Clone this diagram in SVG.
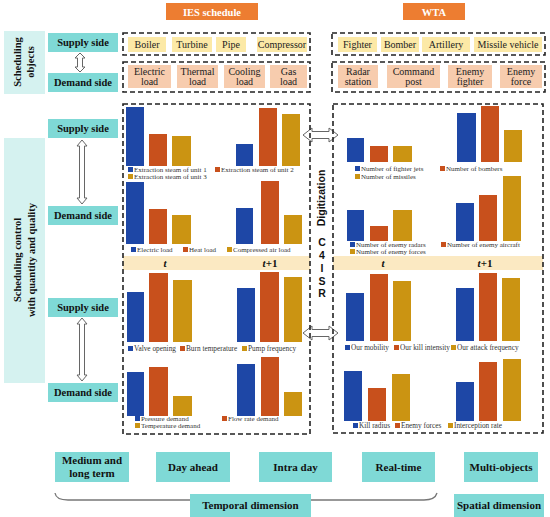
<svg xmlns="http://www.w3.org/2000/svg" width="550" height="517" viewBox="0 0 550 517">
<style>
.bg{fill:#ffffff}
.hdr{fill:#ED7D31}
.hdrt{font-family:"Liberation Serif",serif;font-weight:bold;font-size:10.5px;fill:#fff;text-anchor:middle}
.teal{fill:#7FD9D6}
.lcyan{fill:#D5F2F0}
.lbl{font-family:"Liberation Serif",serif;font-weight:bold;font-size:10.5px;fill:#111;text-anchor:middle}
.sup{fill:#FCE9A6}
.dem{fill:#F7CCAE}
.it{font-family:"Liberation Serif",serif;font-size:10px;fill:#222;text-anchor:middle}
.dash{fill:none;stroke:#222;stroke-width:1.6;stroke-dasharray:5,3}
.band{fill:#FBE9C2}
.bb{fill:#1E47A6}
.bo{fill:#C8501C}
.bg2{fill:#CB9412}
.lg{font-family:"Liberation Serif",serif;font-size:7px;fill:#333}
.lg2{font-family:"Liberation Serif",serif;font-size:7.3px;fill:#333}
.tt{font-family:"Liberation Serif",serif;font-weight:bold;font-size:11px;fill:#111;text-anchor:middle}
.sans{font-family:"Liberation Sans",sans-serif;font-weight:bold;font-size:10.5px;fill:#111;text-anchor:middle}
.arr{fill:#fff;stroke:#666;stroke-width:1}
.brk{fill:none;stroke:#777;stroke-width:1.3}
</style>
<rect class="bg" x="0" y="0" width="550" height="517"/>

<!-- headers -->
<g id="hdr-ies"><rect class="hdr" x="166" y="3" width="92" height="17"/><text class="hdrt" x="212" y="15.5">IES schedule</text></g>
<g id="hdr-wta"><rect class="hdr" x="403" y="3" width="62" height="17"/><text class="hdrt" x="434" y="15.5">WTA</text></g>

<!-- left labels -->
<g id="sched-objects"><rect class="lcyan" x="4" y="31" width="41" height="63"/>
<text class="lbl" transform="translate(21,62) rotate(-90)">Scheduling</text>
<text class="lbl" transform="translate(34,62) rotate(-90)">objects</text></g>
<g id="sched-control"><rect class="lcyan" x="4" y="138" width="41" height="245"/>
<text class="lbl" transform="translate(21,260) rotate(-90)">Scheduling control</text>
<text class="lbl" transform="translate(35,260) rotate(-90)">with quantity and quality</text></g>

<g id="obj-supply"><rect class="teal" x="48" y="33" width="70" height="19"/><text class="lbl" x="83" y="46">Supply side</text></g>
<g id="obj-demand"><rect class="teal" x="48" y="73" width="70" height="19"/><text class="lbl" x="83" y="86">Demand side</text></g>
<g id="ctl-supply1"><rect class="teal" x="48" y="119" width="70" height="19"/><text class="lbl" x="83" y="132">Supply side</text></g>
<g id="ctl-demand1"><rect class="teal" x="48" y="206" width="70" height="19"/><text class="lbl" x="83" y="219">Demand side</text></g>
<g id="ctl-supply2"><rect class="teal" x="48" y="298" width="70" height="19"/><text class="lbl" x="83" y="311">Supply side</text></g>
<g id="ctl-demand2"><rect class="teal" x="48" y="383" width="70" height="19"/><text class="lbl" x="83" y="396">Demand side</text></g>

<!-- connectors -->
<g id="connectors">
<polygon class="arr" points="80,53 85,58 82.5,58 82.5,67 85,67 80,72 75,67 77.5,67 77.5,58 75,58"/>
<polygon class="arr" points="82,140 87,146 84.5,146 84.5,198 87,198 82,204 77,198 79.5,198 79.5,146 77,146"/>
<polygon class="arr" points="82,318 87,324 84.5,324 84.5,375 87,375 82,381 77,375 79.5,375 79.5,324 77,324"/>
<polygon class="arr" points="303,135 312,128 312,131.5 329,131.5 329,128 338,135 329,142 329,138.5 312,138.5 312,142"/>
<polygon class="arr" points="303,333 312,326 312,329.5 329,329.5 329,326 338,333 329,340 329,336.5 312,336.5 312,340"/>
<path class="brk" d="M55,493 Q56,500 68,500 L190,500"/>
<path class="brk" d="M311,500 L424,500 Q435,500 437,493"/>
</g>

<!-- top objects IES -->
<g id="ies-supply-objs">
<rect class="dash" x="123" y="33" width="187" height="22"/>
<rect class="sup" x="128" y="37" width="38" height="15"/><text class="it" x="147" y="48">Boiler</text>
<rect class="sup" x="172" y="37" width="40" height="15"/><text class="it" x="192" y="48">Turbine</text>
<rect class="sup" x="216" y="37" width="30" height="15"/><text class="it" x="231" y="48">Pipe</text>
<rect class="sup" x="257" y="37" width="50" height="15"/><text class="it" x="282" y="48">Compressor</text>
</g>
<g id="ies-demand-objs">
<rect class="dash" x="123" y="62" width="187" height="30"/>
<rect class="dem" x="128" y="65" width="43" height="23"/><text class="it" x="149.5" y="75">Electric</text><text class="it" x="149.5" y="85">load</text>
<rect class="dem" x="177" y="65" width="41" height="23"/><text class="it" x="197.5" y="75">Thermal</text><text class="it" x="197.5" y="85">load</text>
<rect class="dem" x="224" y="65" width="41" height="23"/><text class="it" x="244.5" y="75">Cooling</text><text class="it" x="244.5" y="85">load</text>
<rect class="dem" x="270" y="65" width="37" height="23"/><text class="it" x="288.5" y="75">Gas</text><text class="it" x="288.5" y="85">load</text>
</g>
<!-- top objects WTA -->
<g id="wta-supply-objs">
<rect class="dash" x="332" y="33" width="213" height="22"/>
<rect class="sup" x="338" y="37" width="39" height="15"/><text class="it" x="357.5" y="48">Fighter</text>
<rect class="sup" x="381" y="37" width="38" height="15"/><text class="it" x="400" y="48">Bomber</text>
<rect class="sup" x="422" y="37" width="48" height="15"/><text class="it" x="446" y="48">Artillery</text>
<rect class="sup" x="474" y="37" width="68" height="15"/><text class="it" x="508" y="48">Missile vehicle</text>
</g>
<g id="wta-demand-objs">
<rect class="dash" x="332" y="62" width="213" height="30"/>
<rect class="dem" x="338" y="65" width="40" height="23"/><text class="it" x="358" y="75">Radar</text><text class="it" x="358" y="85">station</text>
<rect class="dem" x="387" y="65" width="53" height="23"/><text class="it" x="413.5" y="75">Command</text><text class="it" x="413.5" y="85">post</text>
<rect class="dem" x="448" y="65" width="44" height="23"/><text class="it" x="470" y="75">Enemy</text><text class="it" x="470" y="85">fighter</text>
<rect class="dem" x="500" y="65" width="42" height="23"/><text class="it" x="521" y="75">Enemy</text><text class="it" x="521" y="85">force</text>
</g>

<!-- big boxes -->
<g id="ies-box">
<rect class="band" x="123" y="256" width="187" height="14"/>
<rect class="dash" x="123" y="104" width="187" height="330"/>
<text class="tt" x="165" y="267"><tspan font-style="italic">t</tspan></text>
<text class="tt" x="270" y="267"><tspan font-style="italic">t</tspan>+1</text>
</g>
<g id="wta-box">
<rect class="band" x="333" y="256" width="210" height="14"/>
<rect class="dash" x="333" y="104" width="210" height="329"/>
<text class="tt" x="383" y="267"><tspan font-style="italic">t</tspan></text>
<text class="tt" x="485" y="267"><tspan font-style="italic">t</tspan>+1</text>
</g>

<g id="digitization">
<text class="sans" transform="translate(325,198) rotate(-90)">Digitization</text>
<text class="sans" x="322" y="246">C</text>
<text class="sans" x="322" y="259">4</text>
<text class="sans" x="322" y="272">I</text>
<text class="sans" x="322" y="285">S</text>
<text class="sans" x="322" y="297">R</text>
</g>

<!-- IES charts -->
<g id="ies-chart-supply-1">
<rect class="bb" x="126" y="107" width="18" height="59"/><rect class="bo" x="149" y="134" width="18" height="32"/><rect class="bg2" x="172" y="136" width="19" height="30"/>
<rect class="bb" x="236" y="144" width="17" height="22"/><rect class="bo" x="259" y="108" width="18" height="58"/><rect class="bg2" x="282" y="114" width="18" height="52"/>
<rect class="bb" x="128" y="167" width="5" height="5"/><text class="lg" x="134" y="172">Extraction steam of unit  1</text>
<rect class="bo" x="215" y="167" width="5" height="5"/><text class="lg" x="221" y="172">Extraction steam of unit  2</text>
<rect class="bg2" x="128" y="174" width="5" height="5"/><text class="lg" x="134" y="179">Extraction steam of unit  3</text>
</g>
<g id="ies-chart-demand-1">
<rect class="bb" x="126" y="182" width="18" height="62"/><rect class="bo" x="149" y="209" width="18" height="35"/><rect class="bg2" x="172" y="215" width="19" height="29"/>
<rect class="bb" x="236" y="208" width="17" height="36"/><rect class="bo" x="261" y="181" width="18" height="63"/><rect class="bg2" x="284" y="215" width="18" height="29"/>
<rect class="bb" x="131" y="247" width="5" height="5"/><text class="lg" x="137" y="252">Electric load</text>
<rect class="bo" x="183" y="247" width="5" height="5"/><text class="lg" x="189" y="252">Heat load</text>
<rect class="bg2" x="227" y="247" width="5" height="5"/><text class="lg" x="233" y="252">Compressed air load</text>
</g>
<g id="ies-chart-supply-2">
<rect class="bb" x="127" y="292" width="17" height="50"/><rect class="bo" x="149" y="273" width="19" height="69"/><rect class="bg2" x="173" y="280" width="19" height="62"/>
<rect class="bb" x="237" y="288" width="18" height="54"/><rect class="bo" x="260" y="272" width="19" height="70"/><rect class="bg2" x="284" y="277" width="18" height="65"/>
<rect class="bb" x="128" y="346" width="5" height="5"/><text class="lg2" x="134" y="351">Valve opening</text>
<rect class="bo" x="180" y="346" width="5" height="5"/><text class="lg2" x="186" y="351">Burn temperature</text>
<rect class="bg2" x="242" y="346" width="5" height="5"/><text class="lg2" x="248" y="351">Pump frequency</text>
</g>
<g id="ies-chart-demand-2">
<rect class="bb" x="127" y="372" width="17" height="44"/><rect class="bo" x="149" y="367" width="19" height="49"/><rect class="bg2" x="173" y="396" width="19" height="20"/>
<rect class="bb" x="237" y="364" width="18" height="52"/><rect class="bo" x="261" y="357" width="18" height="59"/><rect class="bg2" x="284" y="392" width="18" height="24"/>
<rect class="bb" x="135" y="416" width="5" height="5"/><text class="lg" x="141" y="421">Pressure demand</text>
<rect class="bo" x="222" y="416" width="5" height="5"/><text class="lg" x="228" y="421">Flow rate demand</text>
<rect class="bg2" x="135" y="423" width="5" height="5"/><text class="lg" x="141" y="428">Temperature demand</text>
</g>

<!-- WTA charts -->
<g id="wta-chart-supply-1">
<rect class="bb" x="347" y="138" width="17" height="24"/><rect class="bo" x="370" y="146" width="18" height="16"/><rect class="bg2" x="393" y="146" width="19" height="16"/>
<rect class="bb" x="457" y="113" width="19" height="49"/><rect class="bo" x="481" y="106" width="18" height="56"/><rect class="bg2" x="504" y="130" width="18" height="32"/>
<rect class="bb" x="355" y="166" width="5" height="5"/><text class="lg" x="361" y="171">Number of fighter jets</text>
<rect class="bo" x="440" y="166" width="5" height="5"/><text class="lg" x="446" y="171">Number of bombers</text>
<rect class="bg2" x="355" y="174" width="5" height="5"/><text class="lg" x="361" y="179">Number of missiles</text>
</g>
<g id="wta-chart-demand-1">
<rect class="bb" x="347" y="210" width="17" height="31"/><rect class="bo" x="370" y="226" width="18" height="15"/><rect class="bg2" x="393" y="210" width="19" height="31"/>
<rect class="bb" x="456" y="203" width="18" height="38"/><rect class="bo" x="479" y="195" width="18" height="46"/><rect class="bg2" x="503" y="176" width="18" height="65"/>
<rect class="bb" x="350" y="242" width="5" height="5"/><text class="lg" x="356" y="247">Number of enemy radars</text>
<rect class="bo" x="441" y="242" width="5" height="5"/><text class="lg" x="447" y="247">Number of enemy aircraft</text>
<rect class="bg2" x="350" y="249" width="5" height="5"/><text class="lg" x="356" y="254">Number of enemy forces</text>
</g>
<g id="wta-chart-supply-2">
<rect class="bb" x="346" y="293" width="18" height="48"/><rect class="bo" x="370" y="274" width="18" height="67"/><rect class="bg2" x="393" y="281" width="18" height="60"/>
<rect class="bb" x="456" y="288" width="18" height="53"/><rect class="bo" x="479" y="273" width="18" height="68"/><rect class="bg2" x="502" y="278" width="18" height="63"/>
<rect class="bb" x="345" y="345" width="5" height="5"/><text class="lg2" x="351" y="350">Our mobility</text>
<rect class="bo" x="394" y="345" width="5" height="5"/><text class="lg2" x="400" y="350">Our kill intensity</text>
<rect class="bg2" x="451" y="345" width="5" height="5"/><text class="lg2" x="457" y="350">Our attack frequency</text>
</g>
<g id="wta-chart-demand-2">
<rect class="bb" x="344" y="371" width="18" height="50"/><rect class="bo" x="368" y="388" width="18" height="33"/><rect class="bg2" x="392" y="374" width="18" height="47"/>
<rect class="bb" x="456" y="382" width="18" height="39"/><rect class="bo" x="479" y="362" width="18" height="59"/><rect class="bg2" x="503" y="359" width="18" height="62"/>
<rect class="bb" x="353" y="423" width="5" height="5"/><text class="lg2" x="359" y="428">Kill radius</text>
<rect class="bo" x="395" y="423" width="5" height="5"/><text class="lg2" x="401" y="428">Enemy forces</text>
<rect class="bg2" x="448" y="423" width="5" height="5"/><text class="lg2" x="454" y="428">Interception rate</text>
</g>

<!-- bottom -->
<g id="t-medium"><rect class="teal" x="55" y="452" width="74" height="30"/><text class="tt" x="92" y="464">Medium and</text><text class="tt" x="92" y="477">long term</text></g>
<g id="t-dayahead"><rect class="teal" x="156" y="452" width="74" height="30"/><text class="tt" x="193" y="471">Day ahead</text></g>
<g id="t-intraday"><rect class="teal" x="259" y="452" width="73" height="30"/><text class="tt" x="295.5" y="471">Intra day</text></g>
<g id="t-realtime"><rect class="teal" x="362" y="452" width="73" height="30"/><text class="tt" x="398.5" y="471">Real-time</text></g>
<g id="t-multi"><rect class="teal" x="464" y="452" width="74" height="30"/><text class="tt" x="501" y="471">Multi-objects</text></g>
<g id="temporal"><rect class="teal" x="190" y="494" width="121" height="23"/><text class="tt" x="250.5" y="509">Temporal dimension</text></g>
<g id="spatial"><rect class="teal" x="454" y="494" width="90" height="23"/><text class="tt" x="499" y="509">Spatial dimension</text></g>
</svg>
